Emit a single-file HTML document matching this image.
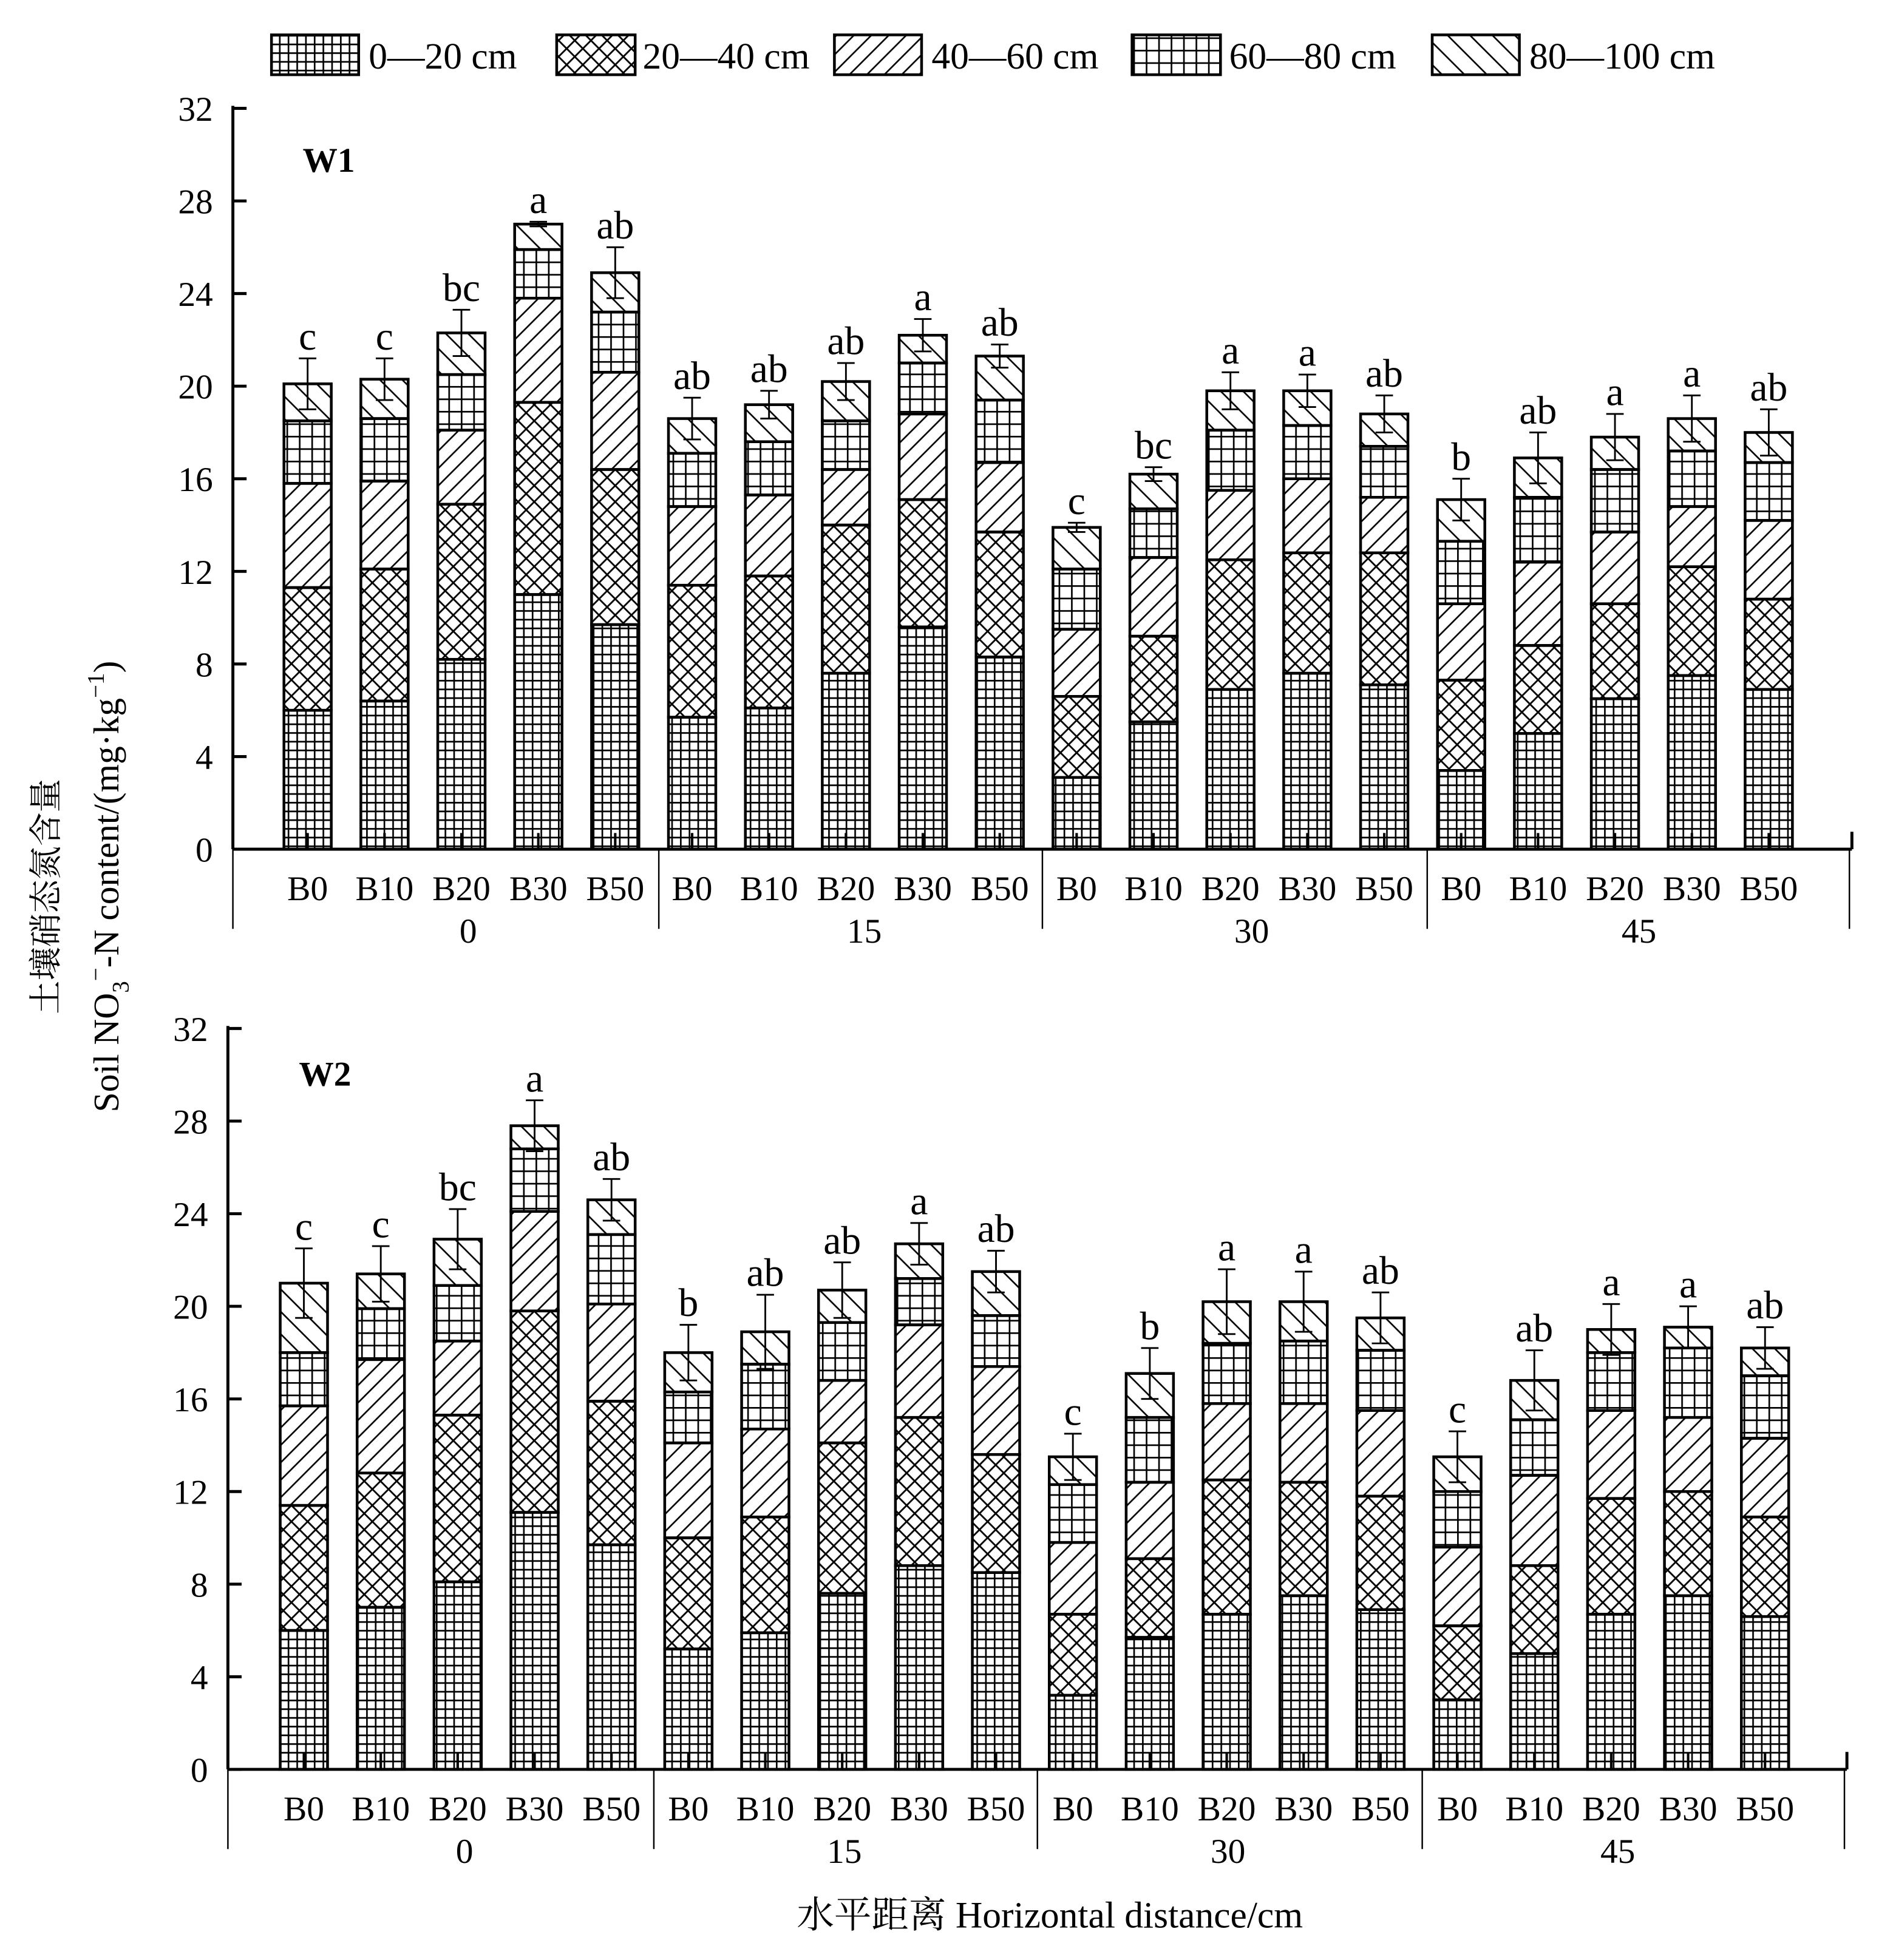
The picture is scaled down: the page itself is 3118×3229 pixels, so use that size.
<!DOCTYPE html>
<html><head><meta charset="utf-8">
<style>html,body{margin:0;padding:0;background:#fff}svg{display:block}text{font-family:"Liberation Serif","Noto Serif CJK SC",serif;fill:#000}</style>
</head><body>
<svg id="s" width="3118" height="3229" viewBox="0 0 1520 1574.1" xmlns="http://www.w3.org/2000/svg">
<defs>
<pattern id="p1" patternUnits="userSpaceOnUse" width="7" height="7"><path d="M0 0.6H7M0.6 0V7" stroke="#000" stroke-width="1.4"/></pattern>
<pattern id="p2" patternUnits="userSpaceOnUse" width="13" height="13"><path d="M0 0L13 13M13 0L0 13M-1 12L1 14M12 -1L14 1M-1 1L1 -1M12 14L14 12" stroke="#000" stroke-width="1.4"/></pattern>
<pattern id="p3" patternUnits="userSpaceOnUse" width="14" height="14"><path d="M0 14L14 0M-1 1L1 -1M13 15L15 13" stroke="#000" stroke-width="1.3"/></pattern>
<pattern id="p4" patternUnits="userSpaceOnUse" width="10" height="10"><path d="M0 0.6H10M0.6 0V10" stroke="#000" stroke-width="1.4"/></pattern>
<pattern id="p5" patternUnits="userSpaceOnUse" width="18" height="18"><path d="M0 0L18 18M-1 17L1 19M17 -1L19 1" stroke="#000" stroke-width="1.3"/></pattern>
</defs>
<g id="g"></g>
<!-- legend -->
<g stroke="#000" stroke-width="2.2">
<rect x="218" y="28" width="70" height="32" fill="url(#p1)"/>
<rect x="447" y="28" width="63" height="32" fill="url(#p2)"/>
<rect x="670" y="28" width="70" height="32" fill="url(#p3)"/>
<rect x="909" y="28" width="71" height="32" fill="url(#p4)"/>
<rect x="1150" y="28" width="70" height="32" fill="url(#p5)"/>
</g>
<g font-size="30">
<text x="296" y="55">0—20 cm</text>
<text x="516" y="55">20—40 cm</text>
<text x="748" y="55">40—60 cm</text>
<text x="987" y="55">60—80 cm</text>
<text x="1228" y="55">80—100 cm</text>
</g>
<text x="243" y="138" font-size="28" font-weight="bold">W1</text>
<text x="240" y="872" font-size="28" font-weight="bold">W2</text>
<text transform="translate(46,720) rotate(-90)" font-size="27" text-anchor="middle">土壤硝态氮含量</text>
<text transform="translate(95,712) rotate(-90)" font-size="29" text-anchor="middle">Soil NO<tspan font-size="19" dy="8">3</tspan><tspan font-size="19" dy="-20">−</tspan><tspan dy="12">-N content/(mg·kg</tspan><tspan font-size="19" dy="-12">−1</tspan><tspan dy="12">)</tspan></text>
<text x="843" y="1548" font-size="30" text-anchor="middle">水平距离 Horizontal distance/cm</text>
</svg>
<script>
var W1=[[6.0,11.3,15.8,18.5,20.1,21.2,"c"],[6.4,12.1,15.9,18.6,20.3,21.2,"c"],[8.2,14.9,18.1,20.5,22.3,23.3,"bc"],[11.0,19.3,23.8,25.9,27.0,27.1,"a"],[9.7,16.4,20.6,23.2,24.9,26.0,"ab"],
[5.7,11.4,14.8,17.1,18.6,19.5,"ab"],[6.1,11.8,15.3,17.6,19.2,19.8,"ab"],[7.6,14.0,16.4,18.5,20.2,21.0,"ab"],[9.6,15.1,18.8,21.0,22.2,22.9,"a"],[8.3,13.7,16.7,19.4,21.3,21.8,"ab"],
[3.1,6.6,9.5,12.1,13.9,14.1,"c"],[5.5,9.2,12.6,14.7,16.2,16.5,"bc"],[6.9,12.5,15.5,18.1,19.8,20.6,"a"],[7.6,12.8,16.0,18.3,19.8,20.5,"a"],[7.1,12.8,15.2,17.4,18.8,19.6,"ab"],
[3.4,7.3,10.6,13.3,15.1,16.0,"b"],[5.0,8.8,12.4,15.2,16.9,18.0,"ab"],[6.5,10.6,13.7,16.4,17.8,18.8,"a"],[7.5,12.2,14.8,17.2,18.6,19.6,"a"],[6.9,10.8,14.2,16.7,18.0,19.0,"ab"]];
var W2=[[6.0,11.4,15.7,18.0,21.0,22.5,"c"],[7.0,12.8,17.7,19.9,21.4,22.6,"c"],[8.1,15.3,18.5,20.9,22.9,24.2,"bc"],[11.1,19.8,24.1,26.8,27.8,28.9,"a"],[9.7,15.9,20.1,23.1,24.6,25.5,"ab"],
[5.2,10.0,14.1,16.3,18.0,19.2,"b"],[5.9,10.9,14.7,17.5,18.9,20.5,"ab"],[7.6,14.1,16.8,19.3,20.7,21.9,"ab"],[8.8,15.2,19.2,21.2,22.7,23.6,"a"],[8.5,13.6,17.4,19.6,21.5,22.4,"ab"],
[3.2,6.7,9.8,12.3,13.5,14.5,"c"],[5.7,9.1,12.4,15.2,17.1,18.2,"b"],[6.7,12.5,15.8,18.4,20.2,21.6,"a"],[7.5,12.4,15.8,18.5,20.2,21.5,"a"],[6.9,11.8,15.5,18.1,19.5,20.6,"ab"],
[3.0,6.2,9.6,12.0,13.5,14.6,"c"],[5.0,8.8,12.7,15.1,16.8,18.1,"ab"],[6.7,11.7,15.5,18.0,19.0,20.1,"a"],[7.5,12.0,15.2,18.2,19.1,20.0,"a"],[6.6,10.9,14.3,17.0,18.2,19.1,"ab"]];
var NB=["B0","B10","B20","B30","B50"],GL=["0","15","30","45"];
var h="";
function panel(D,ax,top,bot,xend,c0,seps,gx){
 var u=(bot-top)/32;function Y(v){return bot-v*u;}
 h+='<line x1="'+ax+'" y1="'+(top-2)+'" x2="'+ax+'" y2="'+bot+'" stroke="#000" stroke-width="2.4"/>';
 h+='<line x1="'+ax+'" y1="'+bot+'" x2="'+xend+'" y2="'+bot+'" stroke="#000" stroke-width="2.4"/>';
 h+='<line x1="'+xend+'" y1="'+bot+'" x2="'+xend+'" y2="'+(bot-14)+'" stroke="#000" stroke-width="2.4"/>';
 for(var k=0;k<=8;k++){var y=Y(k*4);h+='<line x1="'+ax+'" y1="'+y+'" x2="'+(ax+11)+'" y2="'+y+'" stroke="#000" stroke-width="2.4"/>';
  h+='<text x="'+(ax-16)+'" y="'+(y+10)+'" font-size="28" text-anchor="end">'+(k*4)+'</text>';}
 seps.forEach(function(x){h+='<line x1="'+x+'" y1="'+bot+'" x2="'+x+'" y2="'+(bot+64)+'" stroke="#000" stroke-width="1.2"/>';});
 for(var i=0;i<20;i++){var d=D[i],cx=c0+61.75*i,x=cx-19,prev=0;
  for(var j=0;j<5;j++){h+='<rect x="'+x+'" y="'+Y(d[j])+'" width="38" height="'+(Y(prev)-Y(d[j]))+'" fill="url(#p'+(j+1)+')" stroke="#000" stroke-width="2.2"/>';prev=d[j];}
  var t=Y(d[5]),b=Y(2*d[4]-d[5]);
  h+='<line x1="'+cx+'" y1="'+t+'" x2="'+cx+'" y2="'+b+'" stroke="#000" stroke-width="1.4"/><line x1="'+(cx-7)+'" y1="'+t+'" x2="'+(cx+7)+'" y2="'+t+'" stroke="#000" stroke-width="1.4"/><line x1="'+(cx-7)+'" y1="'+b+'" x2="'+(cx+7)+'" y2="'+b+'" stroke="#000" stroke-width="1.4"/>';
  h+='<line x1="'+cx+'" y1="'+bot+'" x2="'+cx+'" y2="'+(bot-13)+'" stroke="#000" stroke-width="2"/>';
  h+='<text x="'+cx+'" y="'+(t-7)+'" font-size="32" text-anchor="middle">'+d[6]+'</text>';
  h+='<text x="'+cx+'" y="'+(bot+41)+'" font-size="28" text-anchor="middle">'+NB[i%5]+'</text>';}
 for(var g=0;g<4;g++)h+='<text x="'+gx[g]+'" y="'+(bot+75)+'" font-size="28" text-anchor="middle">'+GL[g]+'</text>';
}
panel(W1,187,87,682,1487,247,[187,529,837,1146,1485],[376,694,1005,1316]);
panel(W2,183,826,1421,1483,244,[183,525,833,1142,1481],[373,678,986,1299]);
document.getElementById("g").innerHTML=h;
</script>
</body></html>
